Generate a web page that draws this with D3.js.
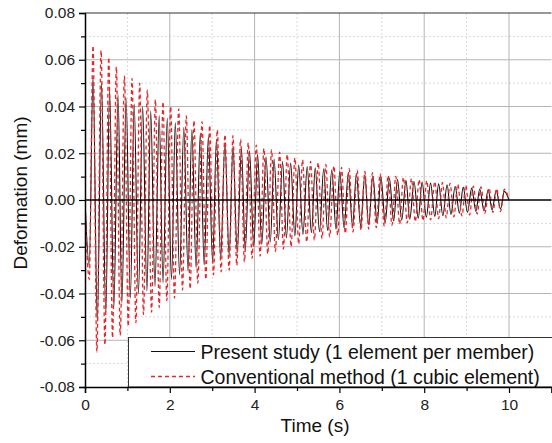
<!DOCTYPE html>
<html>
<head>
<meta charset="utf-8">
<script src="https://cdn.jsdelivr.net/npm/d3@7"></script>
<style>
  body { margin: 0; background: #fff; }
  svg { display: block; font-family: "Liberation Sans", Arial, sans-serif; }
</style>
</head>
<body>
<div id="chart"></div>
<script>
// extremes (time s, deformation mm), one per half cycle
const presentStudy = [
  [0,0],[0.10,-0.028],[0.19,0.053],[0.29,-0.052],[0.39,0.050],[0.49,-0.049],[0.58,0.047],[0.68,-0.046],
  [0.78,0.045],[0.87,-0.044],[0.97,0.0435],[1.07,-0.042],[1.16,0.041],[1.26,-0.040],[1.36,0.040],[1.46,-0.039],
  [1.55,0.038],[1.65,-0.037],[1.75,0.036],[1.84,-0.0355],[1.94,0.035],[2.04,-0.034],[2.13,0.033],[2.23,-0.032],
  [2.33,0.031],[2.43,-0.0305],[2.52,0.030],[2.62,-0.029],[2.72,0.0285],[2.81,-0.0278],[2.91,0.027],[3.01,-0.0265],
  [3.10,0.026],[3.20,-0.025],[3.30,0.0245],[3.40,-0.0238],[3.49,0.023],[3.59,-0.0226],[3.69,0.022],[3.78,-0.0215],
  [3.88,0.021],[3.98,-0.020],[4.07,0.0195],[4.17,-0.019],[4.27,0.0185],[4.37,-0.018],[4.46,0.0175],[4.56,-0.017],
  [4.66,0.0165],[4.75,-0.0162],[4.85,0.0158],[4.95,-0.0154],[5.04,0.015],[5.14,-0.0147],[5.24,0.0143],[5.34,-0.014],
  [5.43,0.0138],[5.53,-0.0136],[5.63,0.0134],[5.72,-0.013],[5.82,0.0128],[5.92,-0.0125],[6.01,0.0122],[6.11,-0.0119],
  [6.21,0.0115],[6.31,-0.0113],[6.40,0.0112],[6.50,-0.011],[6.60,0.0107],[6.69,-0.0105],[6.79,0.0103],[6.89,-0.010],
  [6.98,0.0098],[7.08,-0.0095],[7.18,0.0092],[7.28,-0.009],[7.37,0.0088],[7.47,-0.0086],[7.57,0.0084],[7.66,-0.0082],
  [7.76,0.0079],[7.86,-0.0078],[7.95,0.0077],[8.05,-0.0074],[8.15,0.0072],[8.25,-0.007],[8.34,0.0069],[8.44,-0.0067],
  [8.54,0.0065],[8.63,-0.0062],[8.73,0.0059],[8.83,-0.0057],[8.92,0.0055],[9.02,-0.0053],[9.12,0.0051],[9.22,-0.0049],
  [9.31,0.0047],[9.41,-0.0046],[9.51,0.0044],[9.60,-0.0042],[9.70,0.0041],[9.80,-0.0039],[9.89,0.0037],[10.0,0]
];

const conventional = [
  [0,0],[0.10,-0.034],[0.19,0.066],[0.28,-0.065],[0.38,0.064],[0.47,-0.062],[0.56,0.061],[0.65,-0.059],
  [0.74,0.057],[0.83,-0.058],[0.93,0.053],[1.02,-0.054],[1.11,0.052],[1.20,-0.0525],[1.29,0.050],[1.38,-0.049],
  [1.47,0.047],[1.57,-0.048],[1.66,0.043],[1.75,-0.046],[1.84,0.042],[1.93,-0.043],[2.02,0.040],[2.11,-0.042],
  [2.21,0.039],[2.30,-0.0385],[2.39,0.036],[2.48,-0.038],[2.57,0.034],[2.66,-0.0356],[2.76,0.0335],[2.85,-0.034],
  [2.94,0.032],[3.03,-0.032],[3.12,0.030],[3.21,-0.0307],[3.30,0.028],[3.40,-0.030],[3.49,0.0275],[3.58,-0.028],
  [3.67,0.026],[3.76,-0.0265],[3.85,0.0245],[3.94,-0.025],[4.04,0.0235],[4.13,-0.024],[4.22,0.022],[4.31,-0.023],
  [4.40,0.0215],[4.49,-0.022],[4.59,0.0205],[4.68,-0.021],[4.77,0.0195],[4.86,-0.020],[4.95,0.018],[5.04,-0.0188],
  [5.13,0.0172],[5.23,-0.018],[5.32,0.0165],[5.41,-0.0172],[5.50,0.016],[5.59,-0.0165],[5.68,0.0152],[5.77,-0.0158],
  [5.87,0.0146],[5.96,-0.015],[6.05,0.014],[6.14,-0.0143],[6.23,0.0134],[6.32,-0.0137],[6.42,0.0128],[6.51,-0.013],
  [6.60,0.0122],[6.69,-0.0124],[6.78,0.0117],[6.87,-0.0118],[6.96,0.0112],[7.06,-0.0113],[7.15,0.0106],[7.24,-0.0108],
  [7.33,0.0101],[7.42,-0.0103],[7.51,0.0097],[7.60,-0.0098],[7.70,0.0092],[7.79,-0.0093],[7.88,0.0088],[7.97,-0.0089],
  [8.06,0.0083],[8.15,-0.0085],[8.25,0.0079],[8.34,-0.008],[8.43,0.0075],[8.52,-0.0076],[8.61,0.0071],[8.70,-0.0072],
  [8.79,0.0067],[8.89,-0.0068],[8.98,0.0063],[9.07,-0.0064],[9.16,0.0059],[9.25,-0.006],[9.34,0.0056],[9.43,-0.0056],
  [9.53,0.0052],[9.62,-0.0053],[9.71,0.0049],[9.80,-0.005],[9.89,0.0046],[10.0,0]
];

const xTicks = [0, 2, 4, 6, 8, 10];
const xMinor = [1, 3, 5, 7, 9];
const yTicks = [-0.08, -0.06, -0.04, -0.02, 0, 0.02, 0.04, 0.06, 0.08];
const yMinor = [-0.07, -0.05, -0.03, -0.01, 0.01, 0.03, 0.05, 0.07];
const seriesNames = ["Present study (1 element per member)", "Conventional method (1 cubic element)"];

const width = 552, height = 443;
const margin = { left: 85, right: 0.6, top: 13, bottom: 56 };

const svg = d3.select("#chart")
  .append("svg")
  .attr("width", width)
  .attr("height", height);

const x = d3.scaleLinear().domain([0, 11]).range([margin.left, width - margin.right]);
const y = d3.scaleLinear().domain([-0.08, 0.08]).range([height - margin.bottom, margin.top]);

// plain hyphen for negatives, as in the figure
const fmt = d => d3.format(".2f")(d).replace("\u2212", "-");

// minor grid (dotted)
svg.append("g")
  .selectAll("line.vmin")
  .data(xMinor)
  .enter().append("line")
  .attr("x1", d => x(d)).attr("x2", d => x(d))
  .attr("y1", y(-0.08)).attr("y2", y(0.08))
  .attr("stroke", "#d9d9d9").attr("stroke-dasharray", "2,2");

svg.append("g")
  .selectAll("line.hmin")
  .data(yMinor)
  .enter().append("line")
  .attr("x1", x(0)).attr("x2", x(11))
  .attr("y1", d => y(d)).attr("y2", d => y(d))
  .attr("stroke", "#d9d9d9").attr("stroke-dasharray", "2,2");

// major grid
svg.append("g")
  .selectAll("line")
  .data(xTicks.slice(1))
  .enter().append("line")
  .attr("x1", d => x(d)).attr("x2", d => x(d))
  .attr("y1", y(-0.08)).attr("y2", y(0.08))
  .attr("stroke", "#b4b4b4");

svg.append("g")
  .selectAll("line")
  .data(yTicks.filter(d => d !== 0 && Math.abs(d) < 0.08))
  .enter().append("line")
  .attr("x1", x(0)).attr("x2", x(11))
  .attr("y1", d => y(d)).attr("y2", d => y(d))
  .attr("stroke", "#b4b4b4");

svg.append("clipPath").attr("id", "clip")
  .append("rect")
  .attr("x", x(0)).attr("y", y(0.08))
  .attr("width", x(11) - x(0)).attr("height", y(-0.08) - y(0.08));

const line = d3.line()
  .x(d => x(d[0]))
  .y(d => y(d[1]))
  .curve(d3.curveMonotoneX);

const plot = svg.append("g").attr("clip-path", "url(#clip)");

plot.append("path")
  .datum(presentStudy)
  .attr("d", line)
  .attr("fill", "none")
  .attr("stroke", "#111")
  .attr("stroke-width", 1.1);

plot.append("path")
  .datum(conventional)
  .attr("d", line)
  .attr("fill", "none")
  .attr("stroke", "#e8262a")
  .attr("stroke-width", 1.3)
  .attr("stroke-dasharray", "4,3");

// zero line
svg.append("line")
  .attr("x1", x(0)).attr("x2", x(11))
  .attr("y1", y(0)).attr("y2", y(0))
  .attr("stroke", "#000").attr("stroke-width", 1.5);

// legend
const lg = svg.append("g");
lg.append("rect")
  .attr("x", 128.5).attr("y", 337.5)
  .attr("width", x(11) - 128.5 + 2).attr("height", y(-0.08) - 337.5)
  .attr("fill", "#fff").attr("stroke", "#333").attr("stroke-width", 1);

const rows = lg.selectAll("g.row")
  .data(seriesNames)
  .enter().append("g")
  .attr("transform", (d, i) => "translate(0," + (351.5 + i * 25) + ")");

rows.append("line")
  .attr("x1", 151).attr("x2", 195)
  .attr("y1", 0).attr("y2", 0)
  .attr("stroke", (d, i) => i === 0 ? "#111" : "#e8262a")
  .attr("stroke-width", (d, i) => i === 0 ? 1 : 1.3)
  .attr("stroke-dasharray", (d, i) => i === 0 ? null : "4,3");

rows.append("text")
  .attr("x", 200.5).attr("y", 7)
  .style("font-size", "19.5px")
  .attr("fill", "#111")
  .text(d => d);

// axes
svg.append("g")
  .attr("transform", "translate(0," + y(-0.08) + ")")
  .call(d3.axisBottom(x).tickValues(xTicks).tickSize(6).tickPadding(6).tickFormat(d3.format("d")));
svg.append("g")
  .attr("transform", "translate(0," + y(-0.08) + ")")
  .call(d3.axisBottom(x).tickValues(xMinor).tickSize(4).tickFormat(""))
  .select(".domain").remove();

svg.append("g")
  .attr("transform", "translate(" + x(0) + ",0)")
  .call(d3.axisLeft(y).tickValues(yTicks).tickSize(6).tickPadding(4).tickFormat(fmt));
svg.append("g")
  .attr("transform", "translate(" + x(0) + ",0)")
  .call(d3.axisLeft(y).tickValues(yMinor).tickSize(4).tickFormat(""))
  .select(".domain").remove();

svg.selectAll(".domain").attr("stroke", "#000").attr("stroke-width", 1.5);
svg.selectAll(".tick line").attr("stroke", "#000").attr("stroke-width", 1.2);
svg.selectAll(".tick text")
  .style("font-family", "'Liberation Sans', Arial, sans-serif")
  .style("font-size", "15.5px")
  .attr("fill", "#222");

// top frame
svg.append("line")
  .attr("x1", x(0)).attr("x2", x(11))
  .attr("y1", y(0.08)).attr("y2", y(0.08))
  .attr("stroke", "#333").attr("stroke-width", 1.2);

svg.append("text")
  .attr("x", 315).attr("y", 432)
  .attr("text-anchor", "middle")
  .style("font-size", "19px")
  .attr("fill", "#111")
  .text("Time (s)");

svg.append("text")
  .attr("transform", "translate(27," + y(0.003) + ") rotate(-90)")
  .attr("text-anchor", "middle")
  .style("font-size", "19px")
  .attr("fill", "#111")
  .text("Deformation (mm)");
</script>
</body>
</html>
